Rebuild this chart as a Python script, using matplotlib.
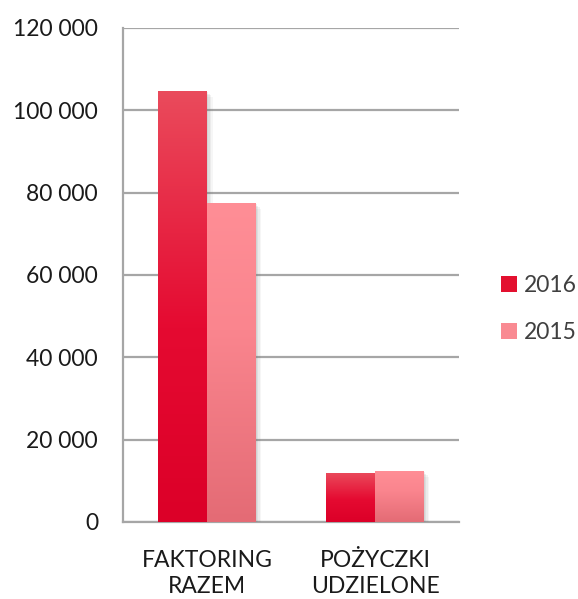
import matplotlib
matplotlib.use("Agg")
import matplotlib.pyplot as plt
import numpy as np
from matplotlib.colors import LinearSegmentedColormap
from matplotlib.patches import Patch
import matplotlib.patheffects as pe

categories = ["FAKTORING\nRAZEM", "POŻYCZKI\nUDZIELONE"]
series_names = ["2016", "2015"]
values_2016 = [104700, 12000]
values_2015 = [77500, 12400]
yticks = [0, 20000, 40000, 60000, 80000, 100000, 120000]
ytick_labels = ["0", "20 000", "40 000", "60 000", "80 000", "100 000", "120 000"]

plt.rcParams['font.family'] = ['Lato', 'DejaVu Sans']

fig = plt.figure(figsize=(5.78, 5.99), dpi=100)
ax = fig.add_axes([123/578, 1-522/599, (459-123)/578, (522-28)/599])

cmap16 = LinearSegmentedColormap.from_list("c16", [(0, "#DC0028"), (0.45, "#E50A31"), (1, "#EA4B5C")])
cmap15 = LinearSegmentedColormap.from_list("c15", [(0, "#E46B75"), (0.6, "#FA858E"), (1, "#FF8E96")])

width = 0.29
x = np.arange(len(categories))
grad = np.linspace(0, 1, 256).reshape(-1, 1)

shadow = [pe.SimplePatchShadow(offset=(o, -o), shadow_rgbFace="#707070", alpha=a)
          for o, a in [(4, 0.06), (3, 0.08), (2, 0.1), (1, 0.1)]] + [pe.Normal()]

for vals, off, cmap, solid in [(values_2016, -width/2, cmap16, "#E3002A"), (values_2015, width/2, cmap15, "#F47A83")]:
    bars = ax.bar(x + off, vals, width, color=solid, zorder=3, path_effects=shadow)
    for b in bars:
        x0, y0 = b.get_x(), b.get_y()
        w, h = b.get_width(), b.get_height()
        im = ax.imshow(grad, extent=[x0, x0 + w, y0, y0 + h], origin='lower',
                       aspect='auto', cmap=cmap, zorder=4)
        im.set_clip_path(b)

ax.set_xlim(-0.5, 1.5)
ax.set_ylim(0, 120000)
ax.set_yticks(yticks)
ax.set_yticklabels(ytick_labels)
ax.set_xticks(x)
ax.set_xticklabels(categories, linespacing=1.3)
ax.yaxis.grid(True, color="#A6A6A6", linewidth=1.6, zorder=0)
ax.set_axisbelow(True)
for s in ["top", "right"]:
    ax.spines[s].set_visible(False)
for s in ["left", "bottom"]:
    ax.spines[s].set_color("#A6A6A6")
    ax.spines[s].set_linewidth(1.6)
ax.tick_params(axis='both', length=0, labelsize=16.5, colors="#1A1A1A")
ax.tick_params(axis='y', pad=18)
ax.tick_params(axis='x', pad=20)

handles = [Patch(facecolor="#E3102F", label="2016"), Patch(facecolor="#F98A92", label="2015")]
fig.legend(handles=handles, loc="center left", bbox_to_anchor=(501/578, 1-309/599),
           frameon=False, fontsize=16.5, handlelength=0.7, handleheight=0.7,
           labelspacing=1.1, handletextpad=0.3, borderpad=0, borderaxespad=0,
           labelcolor="#404040")

fig.savefig("out.png", dpi=100)
